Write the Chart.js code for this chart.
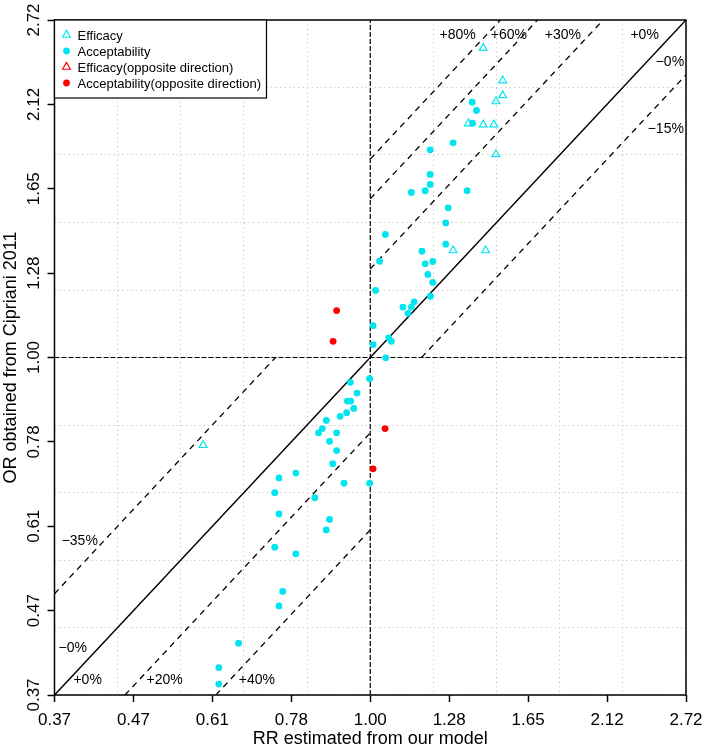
<!DOCTYPE html>
<html lang="en">
<head>
<meta charset="UTF-8">
<title>RR vs OR</title>
<script src="https://cdn.jsdelivr.net/npm/chart.js"></script>
<style>
  html, body { margin: 0; padding: 0; background: #fff; }
</style>
</head>
<body>
<canvas id="chart" width="706" height="750"></canvas>
<script>
// values: RR from our model (x), OR from Cipriani 2011 (y)
const efficacyRR = [1.430, 1.521, 1.521, 1.489, 1.365, 1.430, 1.479, 1.489, 1.300, 1.441, 0.589];
const efficacyOR = [2.503, 2.272, 2.174, 2.135, 2.000, 1.994, 1.994, 1.825, 1.373, 1.373, 0.771];

const acceptRR = [1.381, 1.400, 1.383, 1.300, 1.209, 1.209, 1.209, 1.190, 1.139, 1.359,
                  1.280, 1.270, 1.049, 1.270, 1.178, 1.219, 1.190, 1.030, 1.200, 1.219,
                  1.210, 1.017, 1.149, 1.109, 1.139, 1.127, 1.009, 1.009, 1.060, 1.069,
                  1.050, 0.998, 0.939, 0.959, 0.930, 0.940, 0.949, 0.928, 0.909, 0.870,
                  0.859, 0.849, 0.899, 0.879, 0.899, 0.888, 0.790, 0.749, 0.920, 0.998,
                  0.739, 0.839, 0.749, 0.879, 0.870, 0.739, 0.790, 0.758, 0.749, 0.659,
                  0.619, 0.619];
const acceptOR = [2.131, 2.079, 2.002, 1.889, 1.850, 1.720, 1.670, 1.639, 1.631, 1.639,
                  1.558, 1.490, 1.440, 1.399, 1.370, 1.329, 1.320, 1.330, 1.279, 1.249,
                  1.199, 1.220, 1.179, 1.161, 1.161, 1.140, 1.099, 1.039, 1.060, 1.049,
                  0.999, 0.939, 0.929, 0.900, 0.879, 0.879, 0.860, 0.849, 0.840, 0.830,
                  0.810, 0.800, 0.800, 0.780, 0.759, 0.730, 0.710, 0.700, 0.689, 0.689,
                  0.670, 0.660, 0.629, 0.619, 0.600, 0.570, 0.559, 0.500, 0.479, 0.429,
                  0.399, 0.380];

const efficacyOppRR = [];
const efficacyOppOR = [];
const acceptOppRR = [0.899, 0.889, 1.048, 1.009];
const acceptOppOR = [1.149, 1.049, 0.810, 0.719];

const tickLabels = ['0.37', '0.47', '0.61', '0.78', '1.00', '1.28', '1.65', '2.12', '2.72'];

// reference lines OR = k * RR
const upperRatios = [1.8, 1.6, 1.3, 0.85];   // in the RR>1, OR>1 corner
const lowerRatios = [1.35, 0.8, 0.6];        // in the RR<1, OR<1 corner

// line labels, placed in log(RR), log(OR) units
const lineLabels = [
  { text: '+80%', x: 0.277, y: 0.954 },
  { text: '+60%', x: 0.439, y: 0.954 },
  { text: '+30%', x: 0.610, y: 0.954 },
  { text: '+0%', x: 0.869, y: 0.954 },
  { text: '\u22120%', x: 0.949, y: 0.875 },
  { text: '\u221215%', x: 0.936, y: 0.676 },
  { text: '\u221235%', x: -0.920, y: -0.545 },
  { text: '\u22120%', x: -0.942, y: -0.862 },
  { text: '+0%', x: -0.895, y: -0.957 },
  { text: '+20%', x: -0.651, y: -0.957 },
  { text: '+40%', x: -0.359, y: -0.957 }
];

const FONT = "'Liberation Sans', Arial, Helvetica, sans-serif";
Chart.defaults.font.family = FONT;
Chart.defaults.color = '#000';

const toPts = (rr, or) => rr.map((v, i) => ({ x: Math.log(v), y: Math.log(or[i]) }));

// segment of log(OR) = log(RR) + log(k) inside the square [lo, hi]
function segment(k, lo, hi) {
  const c = Math.log(k);
  const x0 = Math.max(lo, lo - c);
  const x1 = Math.min(hi, hi - c);
  return [{ x: x0, y: x0 + c }, { x: x1, y: x1 + c }];
}

const lineStyle = (data, dash, width) => ({
  data: data, showLine: true, pointRadius: 0, borderColor: '#000',
  borderWidth: width, borderDash: dash, fill: false, inLegend: false
});

const datasets = [
  { label: 'Efficacy', data: toPts(efficacyRR, efficacyOR), pointStyle: 'triangle',
    pointRadius: 4.5, borderColor: '#00e5ee', backgroundColor: 'rgba(0,0,0,0)', borderWidth: 1.2, inLegend: true },
  { label: 'Acceptability', data: toPts(acceptRR, acceptOR), pointStyle: 'circle',
    pointRadius: 3.4, borderColor: '#00e5ee', backgroundColor: '#00e5ee', borderWidth: 0, inLegend: true },
  { label: 'Efficacy(opposite direction)', data: toPts(efficacyOppRR, efficacyOppOR), pointStyle: 'triangle',
    pointRadius: 4.5, borderColor: '#ff0000', backgroundColor: 'rgba(0,0,0,0)', borderWidth: 1.2, inLegend: true },
  { label: 'Acceptability(opposite direction)', data: toPts(acceptOppRR, acceptOppOR), pointStyle: 'circle',
    pointRadius: 3.4, borderColor: '#ff0000', backgroundColor: '#ff0000', borderWidth: 0, inLegend: true },
  lineStyle(segment(1, -1, 1), [], 1.5),
  lineStyle([{ x: 0, y: -1 }, { x: 0, y: 1 }], [5, 2], 1.2),
  lineStyle([{ x: -1, y: 0 }, { x: 1, y: 0 }], [5, 2], 1.2)
];
upperRatios.forEach(k => datasets.push(lineStyle(segment(k, 0, 1), [6, 5], 1.3)));
lowerRatios.forEach(k => datasets.push(lineStyle(segment(k, -1, 0), [6, 5], 1.3)));

const frameAndLabels = {
  id: 'frameAndLabels',
  afterDatasetsDraw(chart) {
    const { ctx, chartArea: a, scales } = chart;
    ctx.save();
    ctx.strokeStyle = '#000';
    ctx.lineWidth = 1.5;
    ctx.strokeRect(a.left, a.top, a.right - a.left, a.bottom - a.top);

    ctx.fillStyle = '#000';
    ctx.font = '14px ' + FONT;
    ctx.textAlign = 'center';
    ctx.textBaseline = 'middle';
    lineLabels.forEach(l => {
      ctx.fillText(l.text, scales.x.getPixelForValue(l.x), scales.y.getPixelForValue(l.y));
    });

    // legend box in the top-left corner
    const items = chart.data.datasets.filter(d => d.inLegend);
    const w = 212, h = 78;
    ctx.fillStyle = '#fff';
    ctx.fillRect(a.left, a.top, w, h);
    ctx.lineWidth = 1.2;
    ctx.strokeRect(a.left, a.top, w, h);
    ctx.font = '13px ' + FONT;
    ctx.textAlign = 'left';
    items.forEach((d, i) => {
      const cx = a.left + 12, cy = a.top + 15 + i * 16;
      ctx.beginPath();
      if (d.pointStyle === 'circle') {
        ctx.arc(cx, cy, 3.4, 0, Math.PI * 2);
        ctx.fillStyle = d.backgroundColor;
        ctx.fill();
      } else {
        const r = 4.5;
        for (let j = 0; j < 3; j++) {
          const ang = j * 2 * Math.PI / 3;
          const px = cx + Math.sin(ang) * r, py = cy - Math.cos(ang) * r;
          if (j === 0) ctx.moveTo(px, py); else ctx.lineTo(px, py);
        }
        ctx.closePath();
        ctx.strokeStyle = d.borderColor;
        ctx.lineWidth = 1.2;
        ctx.stroke();
      }
      ctx.fillStyle = '#000';
      ctx.fillText(d.label, a.left + 23, cy + 1);
    });
    ctx.restore();
  }
};

const logTicks = s => { s.ticks = tickLabels.map((t, i) => ({ value: -1 + i * 0.25 })); };

new Chart(document.getElementById('chart'), {
  type: 'scatter',
  data: { datasets: datasets },
  options: {
    responsive: false,
    animation: false,
    events: [],
    devicePixelRatio: 1,
    layout: { padding: { top: 20, right: 20, left: 0, bottom: 0 } },
    plugins: { legend: { display: false }, tooltip: { enabled: false } },
    scales: {
      x: {
        type: 'linear', position: 'bottom', min: -1, max: 1,
        afterBuildTicks: logTicks,
        ticks: { autoSkip: false, maxRotation: 0, padding: 8, color: '#000',
                 font: { size: 17 }, callback: (v, i) => tickLabels[i] },
        grid: { drawOnChartArea: false, drawTicks: true, tickLength: 7, tickColor: '#000', tickWidth: 1.5 },
        border: { display: false },
        title: { display: true, text: 'RR estimated from our model', color: '#000',
                 font: { size: 18 }, padding: { top: 0, bottom: 0 } },
        afterFit: s => { s.height = 55; s.paddingLeft = 0; s.paddingRight = 0; }
      },
      y: {
        type: 'linear', position: 'left', min: -1, max: 1,
        afterBuildTicks: logTicks,
        ticks: { autoSkip: false, minRotation: 90, maxRotation: 90, crossAlign: 'center',
                 padding: -3.5, color: '#000', font: { size: 17 }, callback: (v, i) => tickLabels[i] },
        grid: { drawOnChartArea: false, drawTicks: true, tickLength: 7, tickColor: '#000', tickWidth: 1.5 },
        border: { display: false },
        title: { display: true, text: 'OR obtained from Cipriani 2011', color: '#000',
                 font: { size: 18 }, padding: { top: 0, bottom: 0 } },
        afterFit: s => { s.width = 54.5; s.paddingTop = 0; s.paddingBottom = 0; }
      },
      xg: {
        type: 'linear', position: 'bottom', min: -1, max: 1,
        ticks: { display: false, stepSize: 0.2 },
        grid: { color: '#d0d0d0', lineWidth: 1, drawTicks: false },
        border: { display: false, dash: [1.5, 3] },
        afterFit: s => { s.height = 0; s.paddingLeft = 0; s.paddingRight = 0; }
      },
      yg: {
        type: 'linear', position: 'left', min: -1, max: 1,
        ticks: { display: false, stepSize: 0.2 },
        grid: { color: '#d0d0d0', lineWidth: 1, drawTicks: false },
        border: { display: false, dash: [1.5, 3] },
        afterFit: s => { s.width = 0; s.paddingTop = 0; s.paddingBottom = 0; }
      }
    }
  },
  plugins: [frameAndLabels]
});
</script>
</body>
</html>
